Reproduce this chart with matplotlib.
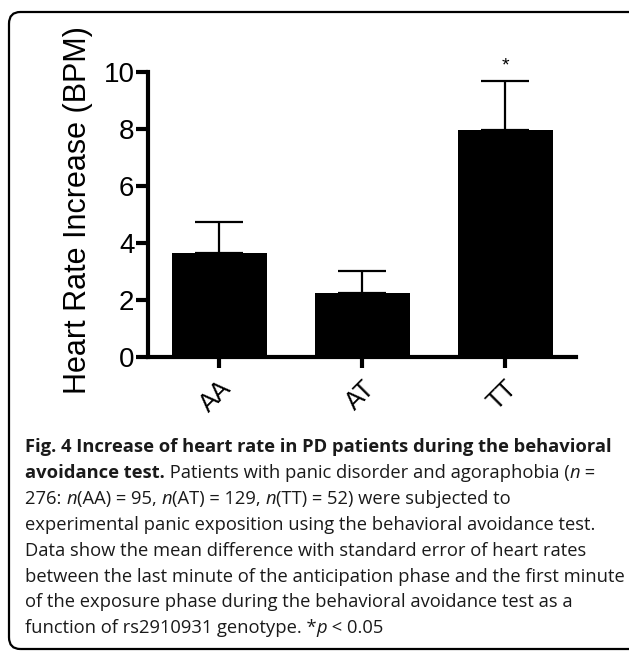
import matplotlib
matplotlib.use("Agg")
import matplotlib.pyplot as plt
from matplotlib.patches import FancyBboxPatch

categories = ["AA", "AT", "TT"]
means = [3.65, 2.23, 7.96]
sem = [1.07, 0.80, 1.72]
yticks = [0, 2, 4, 6, 8, 10]
ylabel = "Heart Rate Increase (BPM)"
signif = ["", "", "*"]

caption_lines = [
    [("Fig. 4 Increase of heart rate in PD patients during the behavioral", "bold", "normal")],
    [("avoidance test.", "bold", "normal"),
     (" Patients with panic disorder and agoraphobia (", "normal", "normal"),
     ("n", "normal", "italic"), (" =", "normal", "normal")],
    [("276: ", "normal", "normal"), ("n", "normal", "italic"),
     ("(AA) = 95, ", "normal", "normal"), ("n", "normal", "italic"),
     ("(AT) = 129, ", "normal", "normal"), ("n", "normal", "italic"),
     ("(TT) = 52) were subjected to", "normal", "normal")],
    [("experimental panic exposition using the behavioral avoidance test.", "normal", "normal")],
    [("Data show the mean difference with standard error of heart rates", "normal", "normal")],
    [("between the last minute of the anticipation phase and the first minute", "normal", "normal")],
    [("of the exposure phase during the behavioral avoidance test as a", "normal", "normal")],
    [("function of rs2910931 genotype. *", "normal", "normal"), ("p", "normal", "italic"),
     (" < 0.05", "normal", "normal")],
]

W, H = 629, 651
fig = plt.figure(figsize=(W / 100, H / 100), dpi=100)

# rounded frame around the figure panel
frame = FancyBboxPatch((9 / W, 2 / H), (W + 10) / W, (H - 14) / H,
                       boxstyle="round,pad=0,rounding_size=0.018",
                       transform=fig.transFigure, fill=False,
                       edgecolor="black", linewidth=1.6, clip_on=False)
fig.patches.append(frame)

ax_l, ax_r, ax_b, ax_t = 148, 576.5, 357, 72
ax = fig.add_axes([ax_l / W, (H - ax_b) / H, (ax_r - ax_l) / W, (ax_b - ax_t) / H])
x = list(range(len(categories)))
ax.bar(x, means, width=0.665, color="black", edgecolor="black", linewidth=0, zorder=2)
ax.errorbar(x, means, yerr=[[0] * len(sem), sem], fmt="none", ecolor="black",
            elinewidth=1.6, capsize=17, capthick=1.6, zorder=1)
for xi, m, s, sg in zip(x, means, sem, signif):
    if sg:
        ax.text(xi, m + s + 0.38, sg, ha="center", va="baseline", fontsize=14,
                family="Liberation Sans", clip_on=False)

ax.set_xlim(-0.5, 2.5)
ax.set_ylim(0, 10)
ax.set_yticks(yticks)
ax.set_xticks(x)
ax.set_xticklabels(categories, rotation=45, ha="right", va="top",
                   rotation_mode="anchor", fontsize=18, family="Liberation Sans")
ax.set_yticklabels([str(t) for t in yticks], fontsize=20, family="Liberation Sans")
ax.set_ylabel(ylabel, fontsize=22, family="Liberation Sans", va="center")
ax.yaxis.set_label_coords(-(ax_l - 78) / (ax_r - ax_l), 0.515)
for sp in ["top", "right"]:
    ax.spines[sp].set_visible(False)
for sp in ["left", "bottom"]:
    ax.spines[sp].set_linewidth(3)
ax.tick_params(axis="y", length=8.6, width=3, pad=1.2)
ax.tick_params(axis="x", length=8, width=3, pad=6)

# caption: font size fitted to the width of the first line
renderer = fig.canvas.get_renderer()
x0 = 25
y_first = 452
dy = 25.9
target_w = 592
base = 14.0
probe = fig.text(0, 0, caption_lines[0][0][0], fontsize=base, fontweight="bold",
                 family="Open Sans")
pw = probe.get_window_extent(renderer).width
probe.remove()
cap_size = base * target_w / pw

for i, pieces in enumerate(caption_lines):
    xp = x0
    yb = H - (y_first + i * dy)
    for txt, wgt, sty in pieces:
        t = fig.text(xp / W, yb / H, txt, fontsize=cap_size, fontweight=wgt,
                     fontstyle=sty, family="Open Sans", ha="left", va="baseline",
                     color="#1a1a1a")
        bb = t.get_window_extent(renderer)
        xp += bb.width

fig.savefig("out.png", dpi=100)
